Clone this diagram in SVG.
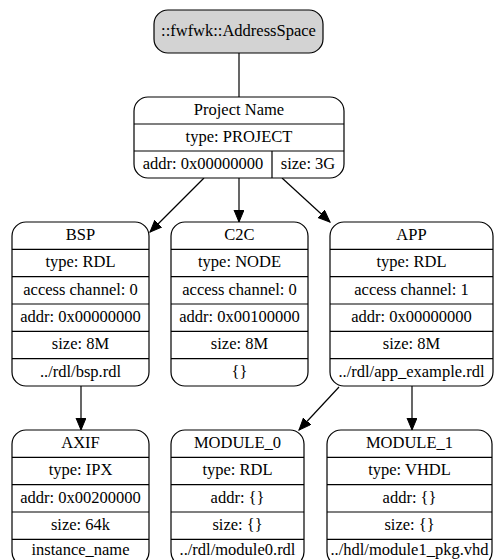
<svg xmlns="http://www.w3.org/2000/svg" width="494" height="560" viewBox="0 0 494 560">
  <style>
    .box { fill: #ffffff; stroke: #000000; stroke-width: 1.2; }
    .root { fill: #d3d3d3; stroke: #000000; stroke-width: 1.2; }
    .sep { stroke: #000000; stroke-width: 1.2; fill: none; }
    .edge { stroke: #000000; stroke-width: 1.2; fill: none; }
    text { font-family: "Liberation Serif", "Times New Roman", serif; font-size: 16.5px; fill: #000000; text-anchor: middle; }
  </style>
  <defs>
    <marker id="arrow" markerUnits="userSpaceOnUse" markerWidth="14" markerHeight="12" refX="12" refY="5" orient="auto">
      <path d="M0,0 L12,5 L0,10 Z" fill="#000000" stroke="#000000" stroke-width="1"/>
    </marker>
  </defs>

  <!-- connectors -->
  <g id="edges">
    <path class="edge" d="M239,53 L239,97"/>
    <path class="edge" d="M204,178 L150,232" marker-end="url(#arrow)"/>
    <path class="edge" d="M239,178 L239,222" marker-end="url(#arrow)"/>
    <path class="edge" d="M282,178 L330,222" marker-end="url(#arrow)"/>
    <path class="edge" d="M81,386 L81,430" marker-end="url(#arrow)"/>
    <path class="edge" d="M339,387 L299,430" marker-end="url(#arrow)"/>
    <path class="edge" d="M412,386 L412,430" marker-end="url(#arrow)"/>
  </g>

  <!-- root address space -->
  <g id="node_root">
    <rect class="root" x="154" y="10" width="169" height="43" rx="14"/>
    <text x="238.5" y="36">::fwfwk::AddressSpace</text>
  </g>

  <!-- project record -->
  <g id="node_project">
    <rect class="box" x="134" y="97" width="210" height="81" rx="14"/>
    <path class="sep" d="M134,124 H344 M134,151 H344 M272,151 V178"/>
    <text x="239" y="115">Project Name</text>
    <text x="239" y="142">type: PROJECT</text>
    <text x="203" y="169">addr: 0x00000000</text>
    <text x="308" y="169">size: 3G</text>
  </g>

  <!-- BSP -->
  <g id="node_bsp">
    <rect class="box" x="12" y="222" width="137" height="164" rx="14"/>
    <path class="sep" d="M12,249.3 H149 M12,276.7 H149 M12,304 H149 M12,331.3 H149 M12,358.7 H149"/>
    <text x="80.5" y="240">BSP</text>
    <text x="80.5" y="267.3">type: RDL</text>
    <text x="80.5" y="294.7">access channel: 0</text>
    <text x="80.5" y="322">addr: 0x00000000</text>
    <text x="80.5" y="349.3">size: 8M</text>
    <text x="80.5" y="376.7">../rdl/bsp.rdl</text>
  </g>

  <!-- C2C -->
  <g id="node_c2c">
    <rect class="box" x="171" y="222" width="137" height="164" rx="14"/>
    <path class="sep" d="M171,249.3 H308 M171,276.7 H308 M171,304 H308 M171,331.3 H308 M171,358.7 H308"/>
    <text x="239.5" y="240">C2C</text>
    <text x="239.5" y="267.3">type: NODE</text>
    <text x="239.5" y="294.7">access channel: 0</text>
    <text x="239.5" y="322">addr: 0x00100000</text>
    <text x="239.5" y="349.3">size: 8M</text>
    <text x="239.5" y="376.7">{}</text>
  </g>

  <!-- APP -->
  <g id="node_app">
    <rect class="box" x="330" y="222" width="163" height="164" rx="14"/>
    <path class="sep" d="M330,249.3 H493 M330,276.7 H493 M330,304 H493 M330,331.3 H493 M330,358.7 H493"/>
    <text x="411.5" y="240">APP</text>
    <text x="411.5" y="267.3">type: RDL</text>
    <text x="411.5" y="294.7">access channel: 1</text>
    <text x="411.5" y="322">addr: 0x00000000</text>
    <text x="411.5" y="349.3">size: 8M</text>
    <text x="411.5" y="376.7">../rdl/app_example.rdl</text>
  </g>

  <!-- AXIF -->
  <g id="node_axif">
    <rect class="box" x="12" y="430" width="137" height="136" rx="14"/>
    <path class="sep" d="M12,457.3 H149 M12,484.7 H149 M12,512 H149 M12,539.3 H149"/>
    <text x="80.5" y="448">AXIF</text>
    <text x="80.5" y="475.3">type: IPX</text>
    <text x="80.5" y="502.7">addr: 0x00200000</text>
    <text x="80.5" y="530">size: 64k</text>
    <text x="80.5" y="555">instance_name</text>
  </g>

  <!-- MODULE_0 -->
  <g id="node_module0">
    <rect class="box" x="171" y="430" width="133" height="136" rx="14"/>
    <path class="sep" d="M171,457.3 H304 M171,484.7 H304 M171,512 H304 M171,539.3 H304"/>
    <text x="237.5" y="448">MODULE_0</text>
    <text x="237.5" y="475.3">type: RDL</text>
    <text x="237.5" y="502.7">addr: {}</text>
    <text x="237.5" y="530">size: {}</text>
    <text x="237.5" y="555">../rdl/module0.rdl</text>
  </g>

  <!-- MODULE_1 -->
  <g id="node_module1">
    <rect class="box" x="327" y="430" width="165" height="136" rx="14"/>
    <path class="sep" d="M327,457.3 H492 M327,484.7 H492 M327,512 H492 M327,539.3 H492"/>
    <text x="409.5" y="448">MODULE_1</text>
    <text x="409.5" y="475.3">type: VHDL</text>
    <text x="409.5" y="502.7">addr: {}</text>
    <text x="409.5" y="530">size: {}</text>
    <text x="409.5" y="555">../hdl/module1_pkg.vhd</text>
  </g>
</svg>
